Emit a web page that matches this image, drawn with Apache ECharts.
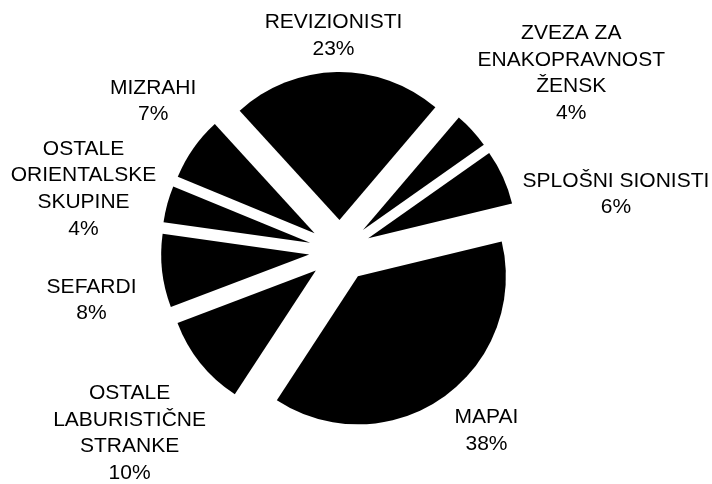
<!DOCTYPE html>
<html>
<head>
<meta charset="utf-8">
<script src="https://cdn.jsdelivr.net/npm/echarts@6/dist/echarts.min.js"></script>
<style>
html,body{margin:0;padding:0;background:#fff;}
#chart{width:712px;height:484px;}
</style>
</head>
<body>
<div id="chart"></div>
<script>
// ---- data ----
const categories = [
  'REVIZIONISTI',
  'ZVEZA ZA\nENAKOPRAVNOST\nŽENSK',
  'SPLOŠNI SIONISTI',
  'MAPAI',
  'OSTALE\nLABURISTIČNE\nSTRANKE',
  'SEFARDI',
  'OSTALE\nORIENTALSKE\nSKUPINE',
  'MIZRAHI'
];
const shares = [23, 4, 6, 38, 10, 8, 4, 7];

// ---- layout / style ----
const CX = 340, CY = 251, R = 148, OFFSET = 31, GAP = 12;
const START_ANGLE = 132.4; // echarts degrees (90 = 12 o'clock)
const FONT_SIZE = 21, LINE_H = 26.6;
const FONT_FAMILY = '"Liberation Sans", Arial, sans-serif';
const LABEL_NUDGE = [[-2, 2], [21, -13], [17, 33], [18, 2], [-2, 29], [-14, 25], [-2, 2], [5, -25]];

const total = shares.reduce((s, v) => s + v, 0);
const mids = [];
(function () {
  let acc = 90 - START_ANGLE; // clock angle in degrees
  shares.forEach(v => {
    const span = v / total * 360;
    mids.push((acc + span / 2) * Math.PI / 180);
    acc += span;
  });
})();

const ctx = document.createElement('canvas').getContext('2d');
ctx.font = FONT_SIZE + 'px ' + FONT_FAMILY;

const labelTexts = categories.map((c, i) => c + '\n' + shares[i] + '%');
const labelElements = labelTexts.map((t, i) => {
  const lines = t.split('\n');
  const w = Math.max.apply(null, lines.map(l => ctx.measureText(l).width));
  const h = lines.length * LINE_H;
  const a = mids[i];
  const dx = Math.sin(a), dy = -Math.cos(a);
  const r = R + OFFSET + GAP;
  return {
    type: 'text',
    silent: true,
    x: CX + r * dx + dx * w / 2 + LABEL_NUDGE[i][0],
    y: CY + r * dy + dy * h / 2 + LABEL_NUDGE[i][1],
    style: {
      text: t,
      fill: '#000000',
      font: FONT_SIZE + 'px ' + FONT_FAMILY,
      lineHeight: LINE_H,
      align: 'center',
      verticalAlign: 'middle'
    }
  };
});

const chart = echarts.init(document.getElementById('chart'), null, {renderer: 'canvas'});
chart.setOption({
  animation: false,
  backgroundColor: '#ffffff',
  graphic: {elements: labelElements},
  series: [{
    type: 'pie',
    silent: true,
    center: [CX, CY],
    radius: R,
    startAngle: START_ANGLE,
    clockwise: true,
    selectedMode: 'multiple',
    selectedOffset: OFFSET,
    avoidLabelOverlap: false,
    itemStyle: {color: '#000000', borderWidth: 0},
    emphasis: {scale: false, itemStyle: {color: '#000000'}},
    select: {itemStyle: {color: '#000000', borderWidth: 0}},
    label: {show: false},
    labelLine: {show: false},
    data: categories.map((c, i) => ({name: c, value: shares[i], selected: true}))
  }]
});
</script>
</body>
</html>
